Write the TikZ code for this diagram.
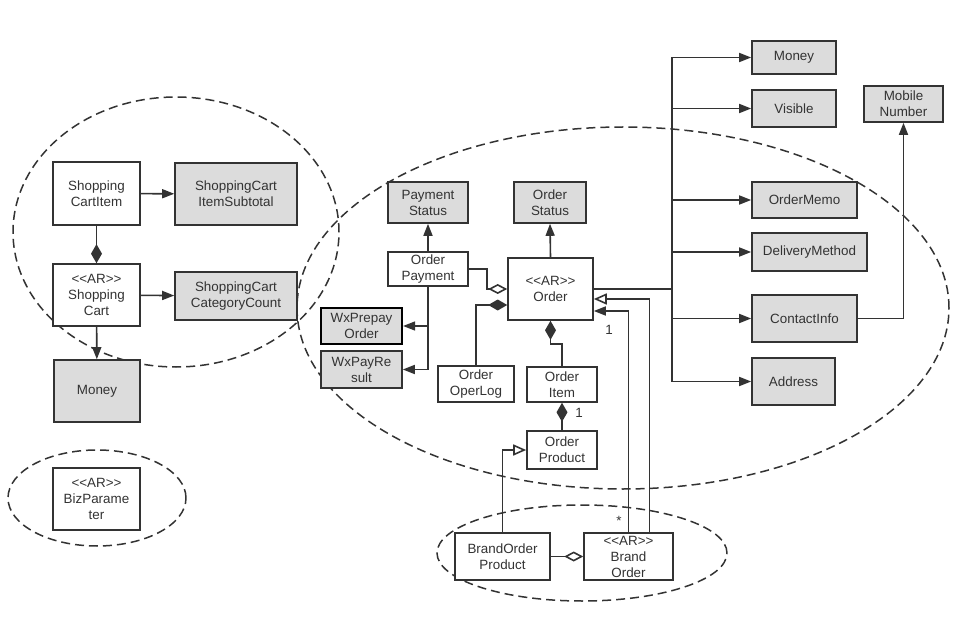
\documentclass[tikz,border=0pt]{standalone}
\usepackage{fontspec}
\setmainfont{Liberation Sans}
\usetikzlibrary{arrows.meta,calc}
\definecolor{linec}{HTML}{333333}
\definecolor{vofill}{HTML}{DCDCDC}
\newcommand{\ARtag}{<{}<AR>{}>}
\tikzset{
  ent/.style={draw=linec, line width=1.6pt, fill=white, align=center, inner sep=0pt,
    text=linec, font=\fontsize{13.4}{16}\selectfont},
  vo/.style={ent, fill=vofill},
  conn/.style={draw=linec, line width=1.6pt},
  arr/.style={conn, -{Triangle[length=12pt,width=9pt]}},
  gen/.style={conn, -{Triangle[open,length=13pt,width=11pt,fill=white]}},
  compo/.style={conn, {Diamond[length=19pt,width=11pt]}-},
  aggr/.style={conn, {Diamond[open,length=19pt,width=10pt,fill=white]}-},
  grp/.style={draw=linec, line width=1.5pt, dash pattern=on 9pt off 5pt},
  mult/.style={text=linec, font=\fontsize{13.4}{15}\selectfont, inner sep=0pt}
}
\begin{document}
\begin{tikzpicture}[x=1pt,y=-1pt]
\useasboundingbox (0,0) rectangle (967,631);
% group ellipses
\draw[grp] (176,232) ellipse [x radius=163pt, y radius=135pt];
\draw[grp] (623,308) ellipse [x radius=326pt, y radius=181pt];
\draw[grp] (97,498) ellipse [x radius=89pt, y radius=48pt];
\draw[grp] (582,553) ellipse [x radius=145pt, y radius=48pt];
% shopping cart
\node[ent, minimum width=87pt, minimum height=63pt] (sci) at (96.5,193.5) {Shopping\\CartItem};
\node[vo, minimum width=122pt, minimum height=62pt] (scis) at (236,194) {ShoppingCart\\ItemSubtotal};
\node[ent, minimum width=87pt, minimum height=62pt] (sc) at (96.5,295) {\ARtag\\Shopping\\Cart};
\node[vo, minimum width=122pt, minimum height=48pt] (sccc) at (236,296) {ShoppingCart\\CategoryCount};
\node[vo, minimum width=86pt, minimum height=62pt] (money1) at (97,391) {Money};
\node[ent, minimum width=87pt, minimum height=62pt] (biz) at (96.5,499) {\ARtag\\BizParame\\ter};
% order
\node[vo, minimum width=80pt, minimum height=41pt] (paystat) at (428,202.5) {Payment\\Status};
\node[vo, minimum width=72pt, minimum height=41pt] (ordstat) at (550,202.5) {Order\\Status};
\node[ent, minimum width=80pt, minimum height=34pt] (ordpay) at (428,269) {Order\\Payment};
\node[ent, minimum width=85pt, minimum height=62pt] (order) at (550.5,289) {\ARtag\\Order};
\node[vo, draw=black, line width=2.2pt, minimum width=81pt, minimum height=36pt] (wxpre) at (361.5,326) {WxPrepay\\Order};
\node[vo, minimum width=81pt, minimum height=37pt] (wxres) at (361.5,369.5) {WxPayRe\\sult};
\node[ent, minimum width=76pt, minimum height=36pt] (operlog) at (476,384) {Order\\OperLog};
\node[ent, minimum width=70pt, minimum height=35pt] (orditem) at (562,384.5) {Order\\Item};
\node[ent, minimum width=70pt, minimum height=38pt] (ordprod) at (562,450) {Order\\Product};
\node[ent, minimum width=95pt, minimum height=47pt] (bop) at (502.5,556.5) {BrandOrder\\Product};
\node[ent, minimum width=89pt, minimum height=47pt] (bo) at (628.5,556.5) {\ARtag\\Brand\\Order};
% right value objects
\node[vo, minimum width=84pt, minimum height=33pt] (money2) at (794,57.5) {Money};
\node[vo, minimum width=84pt, minimum height=37pt] (visible) at (794,108.5) {Visible};
\node[vo, minimum width=79pt, minimum height=36pt] (mobile) at (903.5,104) {Mobile\\Number};
\node[vo, minimum width=105pt, minimum height=36pt] (memo) at (804.5,200) {OrderMemo};
\node[vo, minimum width=115pt, minimum height=38pt] (deliv) at (809.5,252) {DeliveryMethod};
\node[vo, minimum width=105pt, minimum height=47pt] (contact) at (804.5,318.5) {ContactInfo};
\node[vo, minimum width=83pt, minimum height=47pt] (address) at (793.5,381.5) {Address};
\coordinate (bus) at (672,289);
% connectors: shopping cart
\draw[arr] (sci) -- (scis);
\draw[arr] (sc) -- (sccc);
\draw[arr] (sc) -- (money1);
\draw[compo] (sc.north) -- (sci.south);
% connectors: order
\draw[arr] (ordpay.north) -- (paystat.south);
\draw[arr] (order.north) -- (ordstat.south);
\draw[aggr] (order.west) -- ++(-20,0) |- (ordpay.east);
\draw[compo] ($(order.west)+(0,16)$) -| (operlog.north);
\draw[compo] (order.south) -- ++(0,23) -| (orditem.north);
\draw[compo] (orditem.south) -- (ordprod.north);
\draw[arr] (ordpay.south) |- (wxpre.east);
\draw[arr] (ordpay.south) |- (wxres.east);
\draw[gen] (bop.north) |- (ordprod.west);
\draw[aggr] (bo.west) -- (bop.east);
\draw[arr] (bo.north) |- ($(order.east)+(0,22)$);
\draw[gen] ($(bo.north)+(21,0)$) |- ($(order.east)+(0,10)$);
% connectors: value objects
\draw[conn, line width=2.6pt] (order.east) -- (bus);
\draw[arr] (bus) |- (money2.west);
\draw[arr] (bus) |- (visible.west);
\draw[arr] (bus) |- (memo.west);
\draw[arr] (bus) |- (deliv.west);
\draw[arr] (bus) |- (contact.west);
\draw[arr] (bus) |- (address.west);
\draw[arr] (contact.east) -| (mobile.south);
% multiplicities
\node[mult] (m1) at (609,330) {1};
\node[mult] (m2) at (579,413) {1};
\node[mult] (m3) at (619,521) {*};
\end{tikzpicture}
\end{document}
